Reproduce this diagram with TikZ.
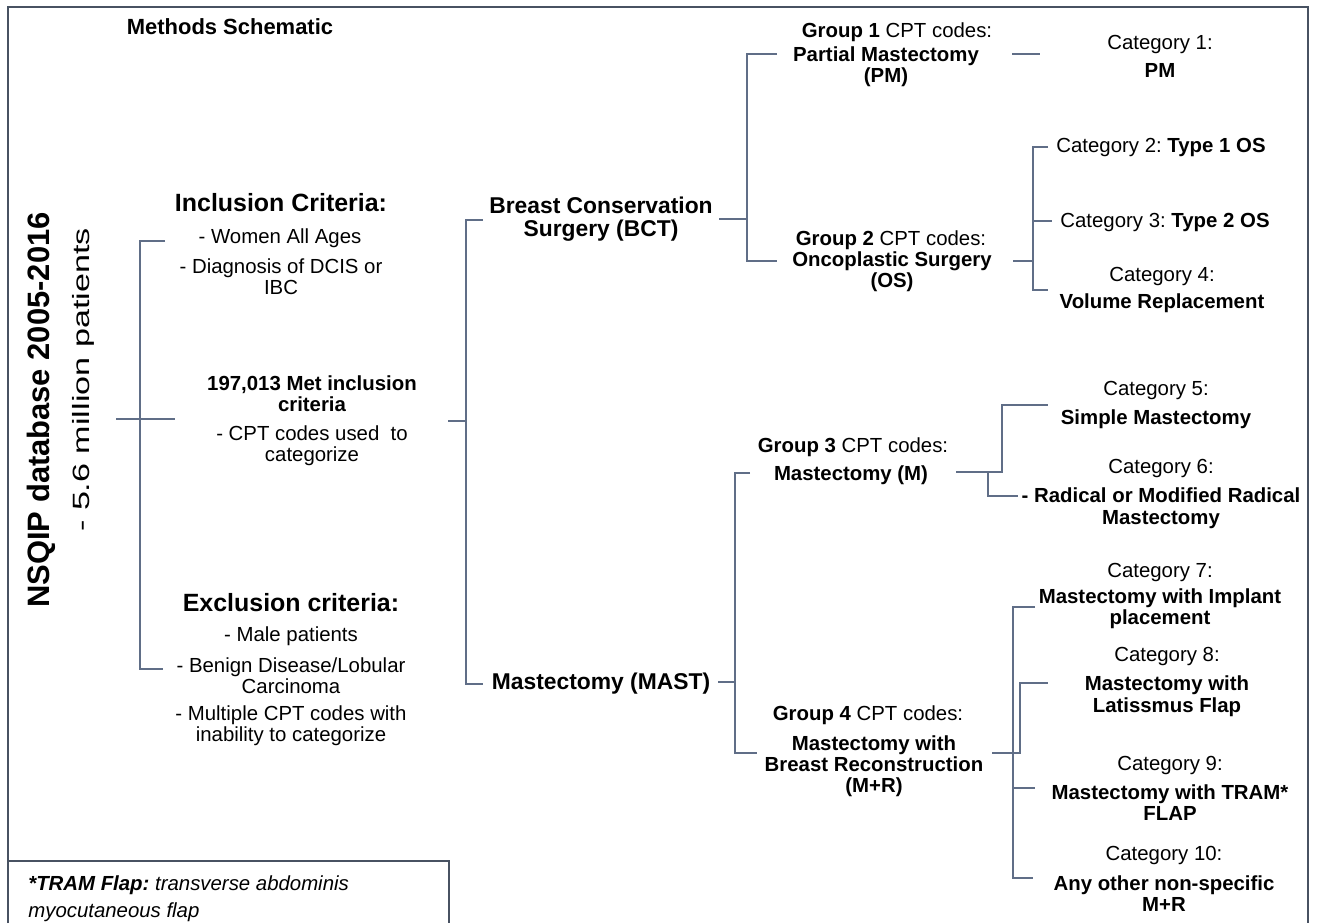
\documentclass[tikz,border=0pt]{standalone}
\usepackage{fontspec}
\setmainfont{Liberation Sans}
\usepackage{graphicx}
\frenchspacing
\definecolor{framec}{RGB}{72,82,98}
\definecolor{linec}{RGB}{96,110,135}
\tikzset{
  frame/.style={draw=framec, line width=1.1pt},
  conn/.style={draw=linec, line width=0.8pt},
  txt/.style={align=center, inner sep=0pt, font=\fontsize{11.6}{12}\selectfont},
  bold/.style={align=center, inner sep=0pt, font=\fontsize{11.6}{12}\selectfont\bfseries},
  head/.style={align=center, inner sep=0pt, font=\fontsize{14.2}{16}\selectfont\bfseries},
  branch/.style={align=center, inner sep=0pt, font=\fontsize{13}{13}\selectfont\bfseries},
}

\begin{document}
\begin{tikzpicture}[x=0.02cm, y=-0.02cm]
\useasboundingbox (0,0) rectangle (1317,923);
\draw[frame] (8,923) |- (1308,7) -- (1308,923);
\draw[frame] (8,861) -- (449,861) -- (449,923);

\node[font=\fontsize{12.5}{14}\selectfont\bfseries, inner sep=0pt] (title) at (230,27) {Methods Schematic};
\node[rotate=90, inner sep=0pt, font=\fontsize{17.6}{18}\selectfont\bfseries] (db) at (41,410) {NSQIP database 2005-2016};
\node[rotate=90, inner sep=0pt, font=\fontsize{13.4}{14}\selectfont] (pts) at (83,380) {\scalebox{1.45}[1]{- 5.6 million patients}};

\node[head] (inc) at (281,203) {Inclusion Criteria:};
\node[txt] (inc1) at (280,238) {- Women All Ages};
\node[txt] (inc2) at (281,277) {- Diagnosis of DCIS or\\IBC};
\node[bold] (met) at (312,394) {197,013 Met inclusion\\criteria};
\node[txt] (cpt) at (312,446) {- CPT codes used\ \ to\\categorize};
\node[head] (exc) at (291,603) {Exclusion criteria:};
\node[txt] (exc1) at (291,636) {- Male patients};
\node[txt] (exc2) at (291,676) {- Benign Disease/Lobular\\Carcinoma};
\node[txt] (exc3) at (291,726) {- Multiple CPT codes with\\inability to categorize};

\node[branch] (bct) at (601,219) {Breast Conservation\\Surgery (BCT)};
\node[branch] (mast) at (601,684) {Mastectomy (MAST)};

\node[txt] (gh1) at (897,32) {\textbf{Group 1} CPT codes:};
\node[bold] (gp1) at (886,67) {Partial Mastectomy\\(PM)};
\node[txt] (gh2) at (891,240) {\textbf{Group 2} CPT codes:};
\node[bold] (gp2) at (892,272) {Oncoplastic Surgery\\(OS)};
\node[txt] (gh3) at (853,447) {\textbf{Group 3} CPT codes:};
\node[bold] (gp3) at (851,475) {Mastectomy (M)};
\node[txt] (gh4) at (868,715) {\textbf{Group 4} CPT codes:};
\node[bold] (gp4) at (874,766) {Mastectomy with\\Breast Reconstruction\\(M+R)};

\node[txt] (c1) at (1160,56) {Category 1:\\[4pt]\textbf{PM}};
\node[txt] (c2) at (1161,147) {Category 2: \textbf{Type 1 OS}};
\node[txt] (c3) at (1165,222) {Category 3: \textbf{Type 2 OS}};
\node[txt] (c4) at (1162,290) {Category 4:\\[3pt]\textbf{Volume Replacement}};
\node[txt] (c5) at (1156,405) {Category 5:\\[5pt]\textbf{Simple Mastectomy}};
\node[txt] (c6) at (1161,494) {Category 6:\\[4.5pt]\textbf{- Radical or Modified Radical}\\\textbf{Mastectomy}};
\node[txt] (c7) at (1160,596) {Category 7:\\[2.4pt]\textbf{Mastectomy with Implant}\\\textbf{placement}};
\node[txt] (c8) at (1167,682) {Category 8:\\[4.5pt]\textbf{Mastectomy with}\\\textbf{Latissmus Flap}};
\node[txt] (c9) at (1170,788) {Category 9:\\[4.5pt]\textbf{Mastectomy with TRAM*}\\\textbf{FLAP}};
\node[txt] (c10) at (1164,879) {Category 10:\\[5pt]\textbf{Any other non-specific}\\\textbf{M+R}};

\node[align=left, inner sep=0pt, anchor=north west, font=\fontsize{11.6}{15.5}\selectfont\itshape] (fn) at (28,875) {\textbf{*TRAM Flap:} transverse abdominis\\myocutaneous flap};

% bracket points
\coordinate (root) at (116,419);
\coordinate (jL) at (140,419);
\coordinate (inT) at (165,241);
\coordinate (exB) at (163,669);
\coordinate (metL) at (175,419);
\coordinate (metR) at (448,421);
\coordinate (jM) at (466,421);
\coordinate (bctL) at (483,220);
\coordinate (mastL) at (483,684);
\coordinate (bctR) at (719,219);
\coordinate (jB) at (747,219);
\coordinate (g1L) at (777,54);
\coordinate (g2L) at (777,261);
\coordinate (g1R) at (1012,54);
\coordinate (c1L) at (1040,54);
\coordinate (g2R) at (1013,261);
\coordinate (jC) at (1033,261);
\coordinate (c2L) at (1048,147);
\coordinate (c3L) at (1052,221);
\coordinate (c4L) at (1048,290);
\coordinate (mastR) at (718,682);
\coordinate (jD) at (735,682);
\coordinate (g3L) at (750,473);
\coordinate (g4L) at (757,753);
\coordinate (g3R) at (956,472);
\coordinate (jE) at (1002,472);
\coordinate (c5L) at (1048,405);
\coordinate (jF) at (988,472);
\coordinate (c6L) at (1018,496);
\coordinate (g4R) at (992,753);
\coordinate (jG) at (1020,753);
\coordinate (c8L) at (1048,683);
\coordinate (jH) at (1013,753);
\coordinate (c7L) at (1035,607);
\coordinate (c9L) at (1035,788);
\coordinate (c10L) at (1033,878);

\draw[conn] (root) -- (metL);
\draw[conn] (inT) -| (jL) |- (exB);
\draw[conn] (metR) -- (jM);
\draw[conn] (bctL) -| (jM) |- (mastL);
\draw[conn] (bctR) -- (jB);
\draw[conn] (g1L) -| (jB) |- (g2L);
\draw[conn] (g1R) -- (c1L);
\draw[conn] (g2R) -- (jC);
\draw[conn] (c2L) -| (jC) |- (c4L);
\draw[conn] (jC |- c3L) -- (c3L);
\draw[conn] (mastR) -- (jD);
\draw[conn] (g3L) -| (jD) |- (g4L);
\draw[conn] (g3R) -- (jE) |- (c5L);
\draw[conn] (jF) |- (c6L);
\draw[conn] (g4R) -- (jG) |- (c8L);
\draw[conn] (c7L) -| (jH) |- (c10L);
\draw[conn] (jH |- c9L) -- (c9L);
\end{tikzpicture}
\end{document}
